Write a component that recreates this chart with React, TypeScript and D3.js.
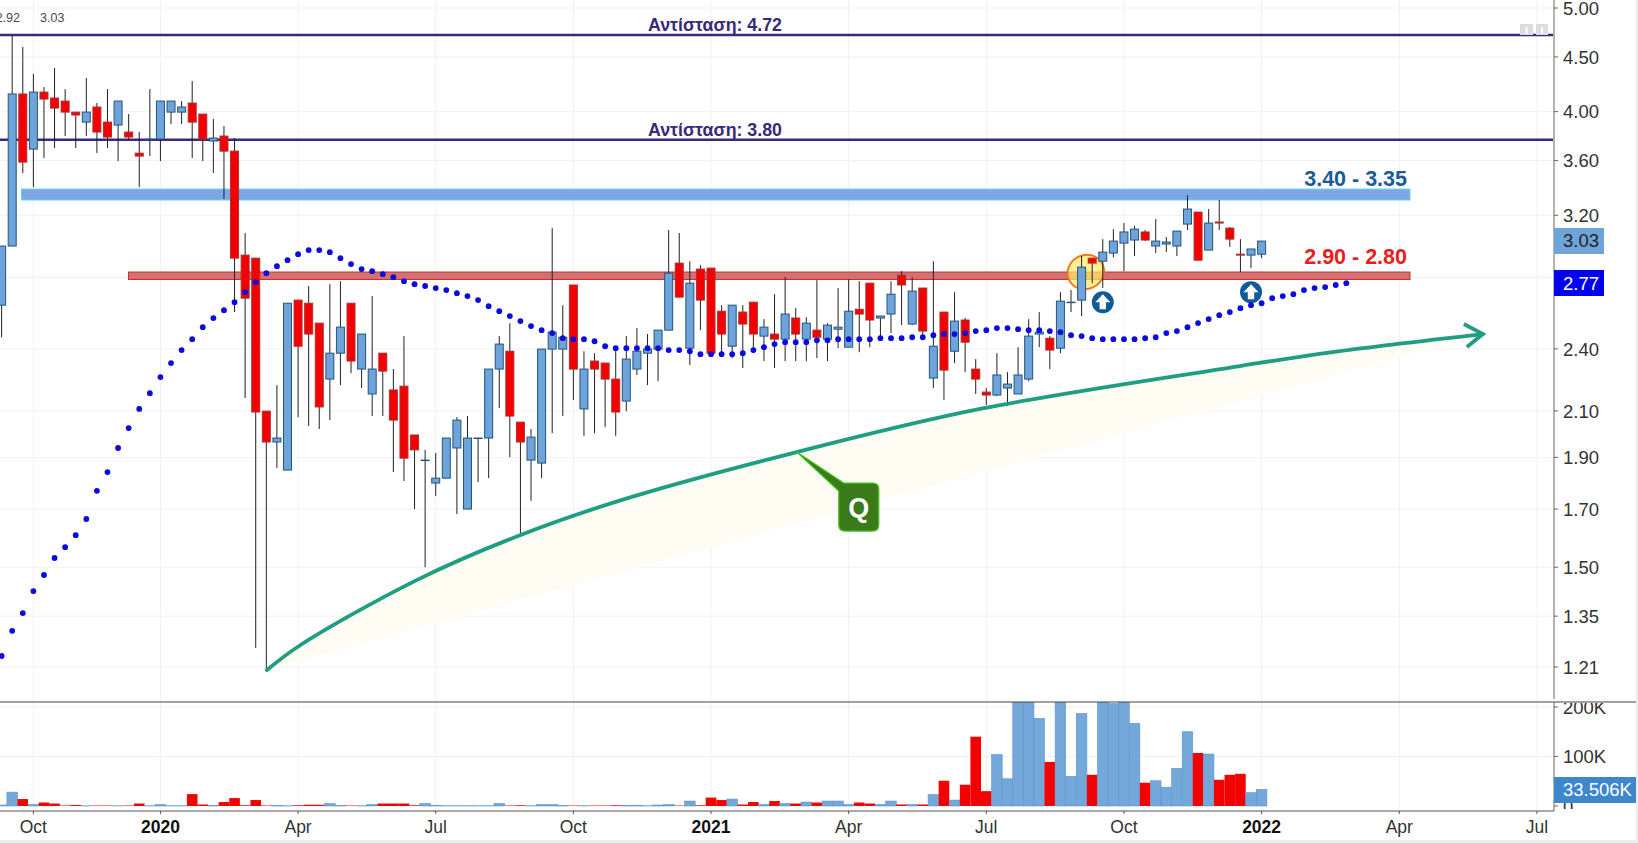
import * as d3 from "d3";

// weekly candles, first one is index -1
const opens = [2.637,2.995,4.155,3.690,4.172,4.119,4.092,3.996,3.911,4.040,3.911,3.886,3.828,3.658,3.765,3.771,3.996,3.996,4.075,3.979,3.755,3.795,3.674,2.937,2.918,2.099,1.964,1.849,2.666,2.648,2.537,2.249,2.378,2.648,2.298,2.178,2.378,2.197,2.215,1.994,1.889,1.798,1.817,1.939,1.700,1.981,1.981,2.298,2.388,2.050,1.889,1.877,2.399,2.399,2.754,2.109,2.338,2.328,2.249,2.145,2.298,2.378,2.399,2.499,2.887,2.404,2.850,2.856,2.603,2.414,2.598,2.654,2.467,2.478,2.451,2.565,2.451,2.499,2.451,2.504,2.409,2.614,2.765,2.565,2.587,2.813,2.532,2.736,2.254,2.598,2.388,2.554,2.298,2.187,2.173,2.206,2.178,2.249,2.478,2.456,2.404,2.654,2.666,2.918,2.899,2.950,3.014,3.034,3.087,2.995,3.008,2.995,3.140,3.222,2.969,3.154,3.113,2.943,2.937,2.943];
const highs = [2.995,4.717,4.597,4.338,4.217,4.394,4.199,3.996,4.300,4.075,4.199,4.092,3.979,3.828,4.199,4.092,4.092,4.092,4.272,3.979,3.937,3.878,3.779,3.080,2.918,2.099,2.220,2.648,2.666,2.748,2.537,2.759,2.777,2.648,2.478,2.689,2.378,2.298,2.467,1.994,1.931,1.918,1.981,2.072,2.077,1.981,2.298,2.467,2.537,2.050,2.020,2.399,3.113,2.637,2.754,2.388,2.378,2.328,2.394,2.467,2.510,2.478,2.499,3.100,3.080,2.899,2.875,2.856,2.637,2.637,2.637,2.654,2.559,2.700,2.801,2.620,2.570,2.783,2.537,2.736,2.789,2.777,2.765,2.576,2.777,2.837,2.801,2.736,2.899,2.598,2.712,2.565,2.348,2.206,2.378,2.283,2.409,2.559,2.598,2.467,2.712,2.724,2.931,2.918,3.040,3.106,3.147,3.127,3.100,3.174,3.054,3.093,3.342,3.222,3.243,3.307,3.120,3.040,2.976,3.027];
const lows = [2.461,2.995,3.505,3.400,3.619,3.698,3.795,3.698,3.795,3.658,3.698,3.596,3.763,3.400,3.635,3.596,3.895,3.895,3.619,3.596,3.505,3.314,2.598,2.159,1.261,1.205,1.857,1.849,2.072,2.033,2.020,2.059,2.220,2.278,2.206,2.077,2.077,1.841,1.806,1.700,1.500,1.749,1.817,1.682,1.700,1.802,1.817,2.113,1.901,1.607,1.730,1.817,2.002,2.077,2.150,1.990,2.002,2.028,1.990,2.099,2.269,2.220,2.239,2.499,2.683,2.318,2.499,2.378,2.378,2.353,2.303,2.378,2.338,2.303,2.338,2.338,2.338,2.353,2.338,2.404,2.409,2.383,2.409,2.461,2.483,2.526,2.526,2.467,2.206,2.150,2.328,2.283,2.178,2.127,2.168,2.122,2.178,2.239,2.409,2.298,2.378,2.598,2.576,2.765,2.736,2.924,2.837,2.931,3.027,2.950,2.956,2.931,3.100,2.905,2.969,3.100,2.989,2.832,2.856,2.918];
const closes = [2.995,4.155,3.588,4.172,4.110,4.031,3.996,3.971,3.996,3.828,3.787,4.092,3.787,3.635,3.770,4.092,4.092,4.040,3.911,3.771,3.779,3.674,2.918,2.677,2.095,1.964,1.981,2.648,2.414,2.478,2.118,2.378,2.515,2.338,2.478,2.298,2.288,2.059,1.897,1.931,1.889,1.817,1.981,2.059,1.981,1.981,2.298,2.425,2.077,1.964,1.985,2.399,2.488,2.461,2.298,2.298,2.298,2.249,2.095,2.348,2.388,2.399,2.499,2.825,2.683,2.765,2.666,2.378,2.478,2.637,2.532,2.478,2.515,2.451,2.587,2.478,2.537,2.461,2.526,2.515,2.603,2.587,2.554,2.576,2.700,2.754,2.718,2.494,2.414,2.293,2.548,2.435,2.249,2.173,2.269,2.225,2.269,2.467,2.488,2.394,2.660,2.654,2.862,2.887,2.956,3.027,3.087,3.106,3.034,3.027,3.021,3.093,3.243,2.905,3.147,3.147,3.040,2.937,2.976,3.027];

const volumes = [2,28,14,3,7,5,1,2,0.5,1,1,0.5,1,5,0.5,3,0.5,0.5,24,3,1,8,16,1.5,12,1,1,0.5,1.5,2.5,2.5,5,1,1,0.5,3,5,5,5,1.5,5,1.5,0.5,0.5,0.5,0.5,0.5,5,1,1.5,0.5,3,3,0.7,1,0.5,1,1,1.5,1,1.5,0.5,2,3,1,10,1.5,17,12,14,3,8,3,10,5,5,8,7,10,10,3,7,5,3,10,3,3,3,23,51,12,43,140,30,104,55,250,230,177,89,240,60,187,63,230,207,225,167,47,51,38,76,150,107,105,53,63,65,27,33.506];

// moving average dots, runs on past the last candle
const avgDots = [1.239,1.308,1.359,1.425,1.475,1.530,1.566,1.607,1.664,1.768,1.841,1.939,2.024,2.109,2.182,2.259,2.328,2.394,2.451,2.515,2.565,2.609,2.654,2.712,2.771,2.825,2.868,2.905,2.943,2.969,2.969,2.956,2.918,2.881,2.850,2.837,2.819,2.801,2.777,2.759,2.748,2.736,2.724,2.706,2.689,2.666,2.631,2.603,2.576,2.548,2.521,2.499,2.483,2.456,2.451,2.451,2.440,2.414,2.404,2.404,2.404,2.404,2.404,2.394,2.394,2.388,2.373,2.373,2.373,2.373,2.378,2.394,2.409,2.425,2.435,2.435,2.435,2.445,2.445,2.451,2.451,2.451,2.451,2.456,2.456,2.456,2.461,2.461,2.472,2.478,2.478,2.483,2.494,2.499,2.510,2.510,2.504,2.499,2.499,2.494,2.488,2.472,2.467,2.456,2.451,2.451,2.451,2.451,2.456,2.461,2.483,2.494,2.515,2.537,2.559,2.581,2.598,2.620,2.637,2.648,2.677,2.689,2.700,2.724,2.736,2.742,2.754,2.765];

const curveIdx = [24.06,27.09,38.2,47.96,57.6,74.1,91.4,115.96,124.7,138.9];
const curvePrice = [1.202,1.266,1.459,1.607,1.734,1.922,2.109,2.313,2.384,2.478];

const priceTicks = [5,4.5,4,3.6,3.2,2.8,2.4,2.1,1.9,1.7,1.5,1.35,1.21];
const hiddenPriceLabels = [2.8];
const volumeTicks = [0,100,200];
const timeIdx = [2,14,27,40,53,66,79,92,105,118,131,144];
const timeLabels = ["Oct","2020","Apr","Jul","Oct","2021","Apr","Jul","Oct","2022","Apr","Jul"];

const resistances = [4.717,3.765];
const resistanceLabels = ["Αντίσταση: 4.72","Αντίσταση: 3.80"];
const blueZone = [3.386,3.307];
const redZone = [2.832,2.787];

const FONT = "'Liberation Sans', Arial, sans-serif";
const TEAL = "#1f9e82";
const BLUE = "#6ea4da";
const RED = "#f40000";

const W = 1638;
const H = 843;
const plotRight = 1554;
const paneLine = 702;
const timeAxisY = 811;

const x = d3.scaleLinear().domain([0, 118]).range([12.2, 1261.6]);
const y = d3.scaleLog().domain([5, 1.21]).range([8, 667]);
const yVol = d3.scaleLinear().domain([0, 200]).range([806, 707]);

const curveLine = d3
  .line<number>()
  .x((d) => x(curveIdx[d]))
  .y((d) => y(curvePrice[d]))
  .curve(d3.curveCatmullRom);
const curvePath = curveLine(d3.range(curveIdx.length)) || "";

function ArrowBadge({ idx, price }: { idx: number; price: number }) {
  const cx = x(idx);
  const cy = y(price);
  return (
    <g transform={`translate(${cx},${cy})`}>
      <circle r={11} fill="#0f5a99" />
      <path d="M0,-8 L7.5,0 L3.2,0 L3.2,7 L-3.2,7 L-3.2,0 L-7.5,0 Z" fill="#ffffff" />
    </g>
  );
}

export default function App() {
  const ax = x(74.1);
  const ay = y(1.922);
  const tipX = x(curveIdx[curveIdx.length - 1]);
  const tipY = y(curvePrice[curvePrice.length - 1]);

  return (
    <svg
      width={W}
      height={H}
      style={{ position: "absolute", left: 0, top: 0, fontFamily: FONT }}
    >
      <rect width={W} height={H} fill="#ffffff" />
      <rect x={0} y={840} width={W} height={3} fill="#ececec" />
      <rect x={1636} y={0} width={2} height={H} fill="#ececec" />

      {/* grid */}
      {priceTicks.map((t) => (
        <line key={t} x1={0} x2={plotRight} y1={y(t)} y2={y(t)} stroke="#f1f1f1" />
      ))}
      {volumeTicks.slice(1).map((t) => (
        <line key={t} x1={0} x2={plotRight} y1={yVol(t)} y2={yVol(t)} stroke="#f1f1f1" />
      ))}
      {timeIdx.map((t) => (
        <line key={t} x1={x(t)} x2={x(t)} y1={0} y2={timeAxisY} stroke="#f1f1f1" />
      ))}

      {/* cream shading under the curve */}
      <path d={curvePath + "Z"} fill="#fffcf3" />

      {/* zones */}
      <rect
        x={21.5}
        width={1410 - 21.5}
        y={y(blueZone[0])}
        height={y(blueZone[1]) - y(blueZone[0])}
        fill="#7ea6e2"
        stroke="#62d6ee"
      />
      <rect
        x={128.5}
        width={1410 - 128.5}
        y={y(redZone[0])}
        height={y(redZone[1]) - y(redZone[0])}
        fill="#d27272"
        stroke="#cf2b2b"
      />
      <text x={1407} y={186} textAnchor="end" fontSize={21.5} fontWeight="bold" fill="#1b5a98">
        3.40 - 3.35
      </text>
      <text x={1407} y={264} textAnchor="end" fontSize={21.5} fontWeight="bold" fill="#ee1b1b">
        2.90 - 2.80
      </text>

      {/* resistance lines */}
      {resistances.map((r, i) => (
        <g key={r}>
          <line x1={0} x2={plotRight - 1} y1={y(r)} y2={y(r)} stroke="#38297a" strokeWidth={2.6} />
          <text
            x={715}
            y={y(r) - 4}
            textAnchor="middle"
            fontSize={17.8}
            fontWeight="bold"
            fill="#38297a"
          >
            {resistanceLabels[i]}
          </text>
        </g>
      ))}

      {/* highlight */}
      <ellipse
        cx={x(101.4)}
        cy={y(2.832)}
        rx={18.5}
        ry={17}
        fill="#ffec66"
        fillOpacity={0.72}
        stroke="#ee7a24"
        strokeWidth={2}
        transform={`rotate(-25 ${x(101.4)} ${y(2.832)})`}
      />

      {/* candles */}
      {opens.map((o, k) => {
        const cx = x(k - 1);
        const c = closes[k];
        const up = c >= o;
        const top = y(Math.max(o, c));
        const bot = y(Math.min(o, c));
        return (
          <g key={k}>
            <line x1={cx} x2={cx} y1={y(highs[k])} y2={y(lows[k])} stroke="#222222" />
            <rect
              x={cx - 4}
              width={8}
              y={top}
              height={Math.max(bot - top, 0.5)}
              fill={up ? BLUE : RED}
              stroke={up ? "#23557f" : "#ad3030"}
            />
          </g>
        );
      })}

      {/* volume */}
      <clipPath id="volClip">
        <rect x={0} y={paneLine} width={plotRight} height={timeAxisY - paneLine} />
      </clipPath>
      <g clipPath="url(#volClip)">
        {volumes.map((v, k) => {
          const up = closes[k] >= opens[k];
          return (
            <rect
              key={k}
              x={x(k - 1) - 5.3}
              width={10.6}
              y={yVol(v)}
              height={yVol(0) - yVol(v)}
              fill={up ? "#74a7da" : RED}
              stroke={up ? "#5f95cc" : "none"}
              strokeWidth={0.6}
            />
          );
        })}
      </g>

      {/* Q curve */}
      <path d={curvePath} fill="none" stroke={TEAL} strokeWidth={3.8} strokeLinecap="round" />
      <path
        d={`M${tipX - 19},${tipY - 10} L${tipX},${tipY} L${tipX - 16},${tipY + 13}`}
        fill="none"
        stroke={TEAL}
        strokeWidth={3.8}
      />
      <path
        d={`M${ax},${ay} L${ax + 47},${ay + 31} L${ax + 76},${ay + 31} Q${ax + 82},${ay + 31} ${ax + 82},${ay + 37} L${ax + 82},${ay + 73} Q${ax + 82},${ay + 79} ${ax + 76},${ay + 79} L${ax + 48},${ay + 79} Q${ax + 42},${ay + 79} ${ax + 42},${ay + 73} L${ax + 42},${ay + 39} Z`}
        fill="#3b7a18"
        stroke="#45c21e"
        strokeWidth={1.2}
      />
      <text
        x={ax + 62}
        y={ay + 65}
        textAnchor="middle"
        fontSize={27}
        fontWeight="bold"
        fill="#ffffff"
      >
        Q
      </text>

      <ArrowBadge idx={103} price={2.654} />
      <ArrowBadge idx={117} price={2.712} />

      {/* moving average */}
      {avgDots.map((d, k) => (
        <circle key={k} cx={x(k - 1)} cy={y(d)} r={2.9} fill="#0b0bdc" />
      ))}

      {/* toolbar stubs */}
      <rect x={1520} y={24} width={13} height={11} fill="#dddddd" />
      <rect x={1536} y={24} width={12} height={11} fill="#dddddd" />
      <rect x={1525.5} y={27} width={2} height={7} fill="#ffffff" />
      <rect x={1541} y={27} width={2} height={7} fill="#ffffff" />

      {/* top values */}
      <text x={20} y={21.5} textAnchor="end" fontSize={12.5} fill="#444a55">
        2.92
      </text>
      <text x={40} y={21.5} fontSize={12.5} fill="#444a55">
        3.03
      </text>

      {/* pane frames */}
      <line x1={0} x2={1636} y1={paneLine} y2={paneLine} stroke="#444444" />
      <line x1={0} x2={plotRight} y1={timeAxisY} y2={timeAxisY} stroke="#555555" />
      <line x1={plotRight} x2={plotRight} y1={0} y2={699} stroke="#666666" />
      <line x1={plotRight} x2={plotRight} y1={paneLine} y2={timeAxisY} stroke="#666666" />

      {/* price axis */}
      {priceTicks.map((t) => (
        <g key={t}>
          <line x1={plotRight} x2={plotRight + 4} y1={y(t)} y2={y(t)} stroke="#666666" />
          {!hiddenPriceLabels.includes(t) && (
            <text x={1563} y={y(t)} dy="0.36em" fontSize={18.5} fill="#333333">
              {t.toFixed(2)}
            </text>
          )}
        </g>
      ))}
      <rect x={plotRight} y={228} width={50} height={26} fill={BLUE} />
      <text x={1563} y={y(3.03)} dy="0.36em" fontSize={18.5} fill="#222222">
        3.03
      </text>
      <rect x={plotRight} y={270} width={50} height={26} fill="#0000ee" />
      <text x={1563} y={y(2.764)} dy="0.36em" fontSize={18.5} fill="#ffffff">
        2.77
      </text>

      {/* volume axis */}
      <clipPath id="volAxisClip">
        <rect x={plotRight} y={paneLine + 1} width={84} height={106} />
      </clipPath>
      <g clipPath="url(#volAxisClip)">
        {volumeTicks.map((t) => (
          <g key={t}>
            <line x1={plotRight} x2={plotRight + 4} y1={yVol(t)} y2={yVol(t)} stroke="#666666" />
            <text x={1563} y={yVol(t)} dy="0.36em" fontSize={18.5} fill="#333333">
              {t === 0 ? "0" : `${t}K`}
            </text>
          </g>
        ))}
      </g>
      <rect x={plotRight} y={777} width={82} height={26} fill="#3d87cc" />
      <text x={1563} y={yVol(33.506)} dy="0.36em" fontSize={18.5} fill="#ffffff">
        33.506K
      </text>

      {/* time axis */}
      {timeIdx.map((t, i) => {
        const isYear = /^\d+$/.test(timeLabels[i]);
        return (
          <g key={t}>
            <line x1={x(t)} x2={x(t)} y1={timeAxisY} y2={timeAxisY + 3} stroke="#555555" />
            <text
              x={x(t)}
              y={833}
              textAnchor="middle"
              fontSize={17.5}
              fontWeight={isYear ? "bold" : "normal"}
              fill={isYear ? "#111111" : "#333333"}
            >
              {timeLabels[i]}
            </text>
          </g>
        );
      })}
    </svg>
  );
}
